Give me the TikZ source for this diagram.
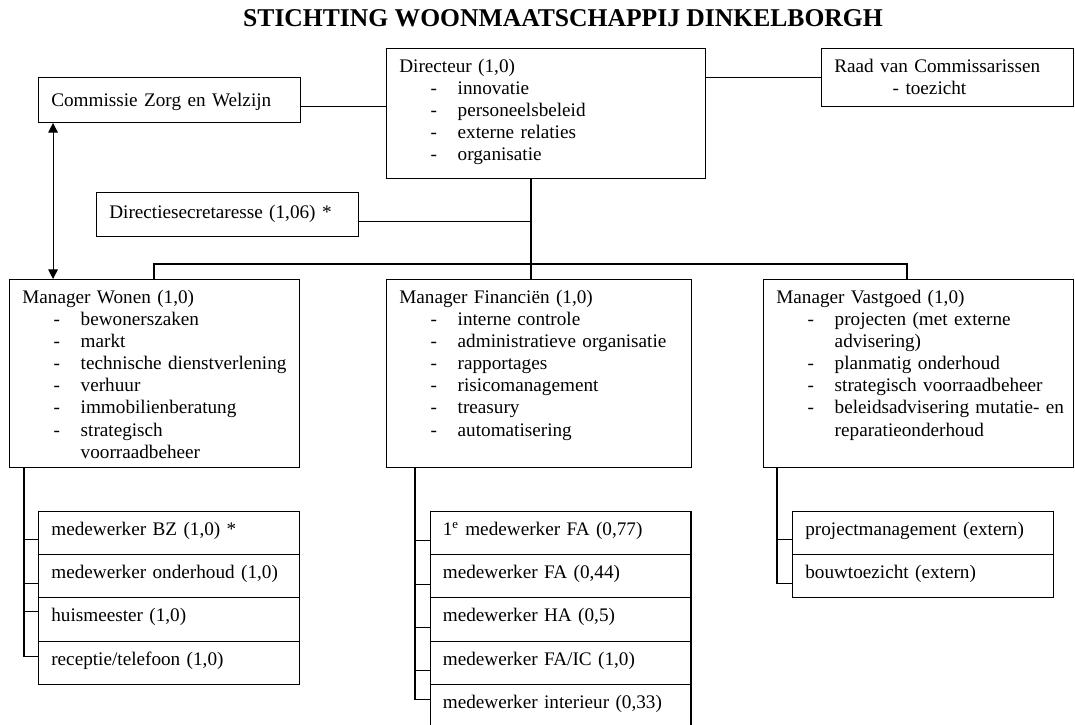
\documentclass[tikz,border=0pt]{standalone}
\usepackage{fontspec}
\setmainfont{Liberation Serif}
\usetikzlibrary{arrows.meta}

\newcommand{\itm}[1]{\mbox{\makebox[36.5pt][l]{\hspace*{19.5pt}-}#1}}
\newcommand{\cnt}[1]{\mbox{\hspace*{36.5pt}#1}}

\begin{document}
\begin{tikzpicture}[x=0.625pt, y=-0.625pt, font=\fontsize{12}{13.8}\selectfont]
\tikzstyle{boxr}=[rectangle, draw, line width=0.65pt, anchor=north west, align=left, inner xsep=8pt, inner ysep=4pt, text height=11pt]
\tikzstyle{boxrow}=[boxr, text width=147.1pt, text depth=8.1pt]
\tikzstyle{boxman}=[boxr, text depth=98.5pt]
\tikzstyle{drawstyle}=[line width=0.65pt]
\tikzstyle{arrowstyle}=[line width=0.65pt, {Triangle[length=6pt,width=6pt]}-{Triangle[length=6pt,width=6pt]}]

\useasboundingbox (0,0) rectangle (1075,724);

\node[font=\bfseries\fontsize{16}{18}\selectfont] (Title) at (563,18.5) {STICHTING WOONMAATSCHAPPIJ DINKELBORGH};

% top level
\node[boxr, text width=183.4pt, text depth=62.25pt] (Dir) at (386,48) {Directeur (1,0)\\\itm{innovatie}\\\itm{personeelsbeleid}\\\itm{externe relaties}\\\itm{organisatie}};
\node[boxr, text width=147.75pt, text height=14pt, text depth=6.1pt] (Com) at (38,77) {Commissie Zorg en Welzijn};
\node[boxr, text width=141.5pt, text depth=17.25pt] (Raad) at (821,48) {Raad van Commissarissen\\\cnt{- toezicht}};
\node[boxr, text width=147.75pt, text height=12pt, text depth=7.5pt] (Sec) at (96,192) {Directiesecretaresse (1,06) *};

% managers
\node[boxman, text width=165.25pt] (Mw) at (9,279) {Manager Wonen (1,0)\\\itm{bewonerszaken}\\\itm{markt}\\\itm{technische dienstverlening}\\\itm{verhuur}\\\itm{immobilienberatung}\\\itm{strategisch}\\\cnt{voorraadbeheer}};
\node[boxman, text width=174.6pt] (Mf) at (386,279) {Manager Financiën (1,0)\\\itm{interne controle}\\\itm{administratieve organisatie}\\\itm{rapportages}\\\itm{risicomanagement}\\\itm{treasury}\\\itm{automatisering}};
\node[boxman, text width=177.75pt] (Mv) at (763,279) {Manager Vastgoed (1,0)\\\itm{projecten (met externe}\\\cnt{advisering)}\\\itm{planmatig onderhoud}\\\itm{strategisch voorraadbeheer}\\\itm{beleidsadvisering mutatie- en}\\\cnt{reparatieonderhoud}};

% staff Wonen
\node[boxrow] (W1) at (38,510.7) {medewerker BZ (1,0) *};
\node[boxrow] (W2) at (38,554) {medewerker onderhoud (1,0)};
\node[boxrow] (W3) at (38,597.3) {huismeester (1,0)};
\node[boxrow] (W4) at (38,640.7) {receptie/telefoon (1,0)};

% staff Financien
\node[boxrow] (F1) at (429.5,510.7) {1\textsuperscript{e} medewerker FA (0,77)};
\node[boxrow] (F2) at (429.5,554) {medewerker FA (0,44)};
\node[boxrow] (F3) at (429.5,597.3) {medewerker HA (0,5)};
\node[boxrow] (F4) at (429.5,640.7) {medewerker FA/IC (1,0)};
\node[boxrow] (F5) at (429.5,684) {medewerker interieur (0,33)};

% staff Vastgoed
\node[boxrow] (V1) at (792,510.7) {projectmanagement (extern)};
\node[boxrow] (V2) at (792,554) {bouwtoezicht (extern)};

\coordinate (Bus) at (531,264);
\coordinate (Bw) at (154,264);
\coordinate (Be) at (907,264);
\coordinate (c1) at ([yshift=-4.1pt]Com.east);
\coordinate (c2) at ([yshift=-4.4pt]Sec.east);
\coordinate (c3) at ([xshift=9.4pt]Com.south west);

\draw[drawstyle] (c1) -- (c1 -| Dir.west);
\draw[drawstyle] (Raad.west -| Dir.east) -- (Raad.west);
\draw[drawstyle] (Bus |- Dir.south) -- (Bus |- Mf.north);
\draw[drawstyle] (c2) -- (c2 -| Bus);
\draw[drawstyle] (Bw |- Mw.north) -- (Bw) -- (Be) -- (Be |- Mv.north);
\draw[arrowstyle] (c3) -- (c3 |- Mw.north);

% lists
\coordinate (Wt) at (24,0);
\coordinate (W4t) at ([yshift=3.9pt]W4.west);
\draw[drawstyle] (Wt |- Mw.south) -- (Wt |- W4t) -- (W4t);
\draw[drawstyle] ([yshift=-4.4pt]W1.west) -- ++(-14,0);
\draw[drawstyle] ([yshift=-4.4pt]W2.west) -- ++(-14,0);
\draw[drawstyle] ([yshift=4.8pt]W3.west) -- ++(-14,0);

\coordinate (Ft) at (415,0);
\coordinate (F5t) at ([yshift=4.1pt]F5.west);
\draw[drawstyle] (Ft |- Mf.south) -- (Ft |- F5t) -- (F5t);
\draw[drawstyle] ([yshift=-4.6pt]F1.west) -- ++(-14.5,0);
\draw[drawstyle] ([yshift=-5pt]F2.west) -- ++(-14.5,0);
\draw[drawstyle] ([yshift=-4.8pt]F3.west) -- ++(-14.5,0);
\draw[drawstyle] ([yshift=-4.8pt]F4.west) -- ++(-14.5,0);

\coordinate (Vt) at (777,0);
\coordinate (V2t) at ([yshift=-4.4pt]V2.west);
\draw[drawstyle] (Vt |- Mv.south) -- (Vt |- V2t) -- (V2t);
\draw[drawstyle] ([yshift=-4.4pt]V1.west) -- ++(-15,0);
\end{tikzpicture}
\end{document}
